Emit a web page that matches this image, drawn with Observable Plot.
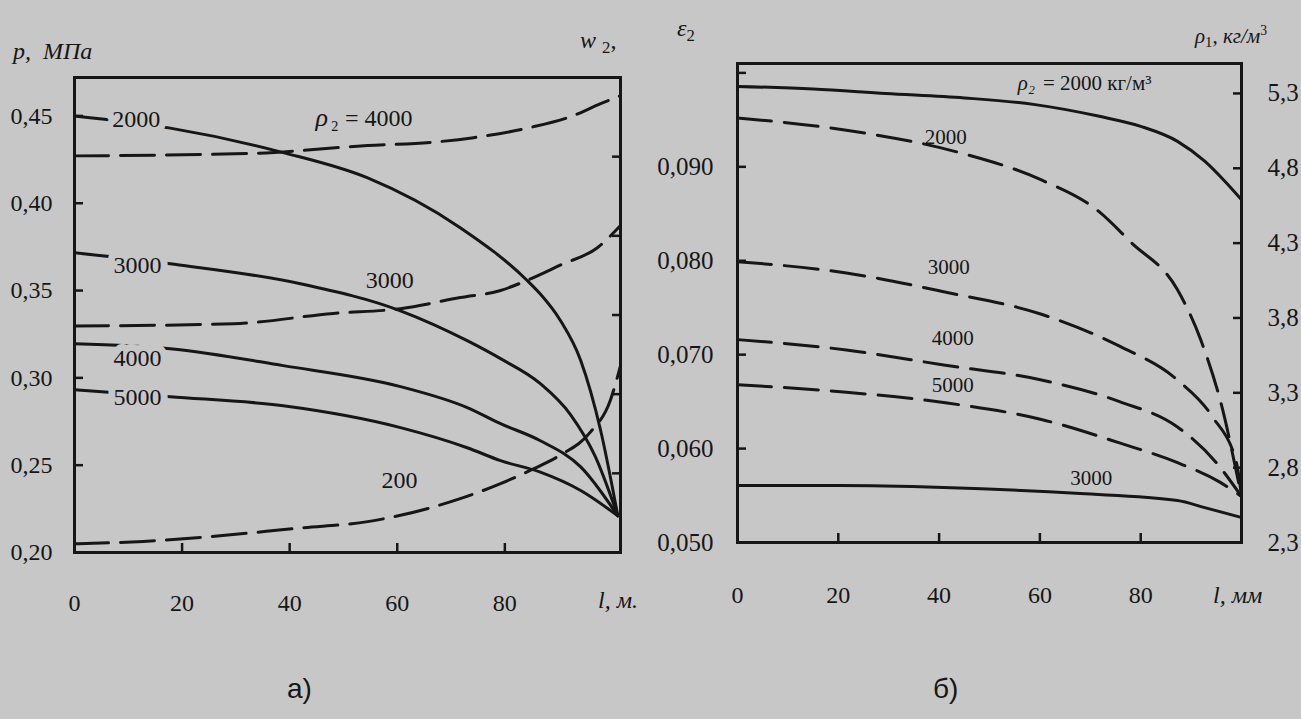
<!DOCTYPE html>
<html><head><meta charset="utf-8">
<script src="https://cdn.jsdelivr.net/npm/d3@7"></script>
<script src="https://cdn.jsdelivr.net/npm/@observablehq/plot@0.6"></script>
<style>
html,body{margin:0;padding:0;background:#c7c7c7;}
#wrap{position:relative;width:1301px;height:719px;overflow:hidden;background:#c7c7c7;font-family:"Liberation Serif","Times New Roman",serif;color:#161616}
.pl{position:absolute;top:0}
.t{position:absolute;white-space:nowrap;line-height:1;font-size:24px;font-family:"Liberation Serif","Times New Roman",serif}
.t i{font-style:italic}
.t sub{font-size:0.7em;vertical-align:-0.3em}
.t sup{font-size:0.65em;vertical-align:0.55em}
.t.s{font-family:"Liberation Sans",Arial,sans-serif;font-size:28px}
svg text{font-family:"Liberation Serif","Times New Roman",serif}
</style></head><body>
<div id="wrap">
  <div id="pa" class="pl" style="left:0"></div>
  <div id="pb" class="pl" style="left:620px"></div>
  <div class="t" style="left:13px;top:39px"><i>p,&nbsp; МПа</i></div>
  <div class="t" style="left:580px;top:28px"><i>w</i> <sub>2</sub>,</div>
  <div class="t" style="left:677px;top:16px"><i>ε</i><sub>2</sub></div>
  <div class="t" style="left:1195px;top:24px;font-size:21px"><i>ρ</i><sub>1</sub>, <i>кг/м</i><sup>3</sup></div>
  <div class="t" style="left:598px;top:588px"><i>l, м.</i></div>
  <div class="t" style="left:1213px;top:583px"><i>l, мм</i></div>
  <div class="t s" style="left:287px;top:675px">а)</div>
  <div class="t s" style="left:933px;top:675px">б)</div>
</div>
<script>
const ink = "#161616";
const paper = "#c7c7c7";
const serif = "Liberation Serif";

// ---------- Panel а): p (MPa, left) and w2 (right, unlabeled) vs l (m) ----------
const lTicksA = [0, 20, 40, 60, 80];
const pTicks = [0.20, 0.25, 0.30, 0.35, 0.40, 0.45];
const w2Ticks = [1, 2, 3, 4, 5];
const pDomain = [0.20, 0.472];
const w2Domain = [0, 6];
const lDomainA = [0, 101.5];

// solid: pressure p for rho2 = 2000..5000
const pRho2000 = [[0,0.450],[17.8,0.443],[38.8,0.429],[54.5,0.4145],[71.7,0.386],[84.2,0.3556],[86.6,0.348],[90.3,0.333],[94.1,0.310],[97.8,0.270],[101,0.221]];
const pRho3000 = [[0,0.3716],[17.8,0.3653],[42,0.3539],[60.6,0.3384],[73,0.3213],[79.2,0.311],[86.6,0.2967],[92.2,0.279],[96.8,0.255],[101,0.221]];
const pRho4000 = [[0,0.3195],[17.8,0.3167],[38.8,0.307],[60.6,0.295],[73,0.283],[79.2,0.2738],[86.6,0.264],[94.1,0.249],[101,0.221]];
const pRho5000 = [[0,0.2932],[17.8,0.2892],[38.8,0.284],[60.6,0.2715],[73,0.260],[79.2,0.2526],[86.6,0.246],[94.1,0.2355],[101,0.221]];
// dashed: particle velocity w2 (right axis units)
const w2Rho4000 = [[0,5.01],[32.7,5.04],[54.5,5.14],[66.2,5.18],[74.2,5.24],[84.8,5.37],[92.8,5.52],[97.8,5.67],[101.5,5.77]];
const w2Rho3000 = [[0,2.86],[29.6,2.89],[48.1,3.02],[60.6,3.08],[71.7,3.22],[79.2,3.31],[84.2,3.44],[90.3,3.63],[97.2,3.85],[101.5,4.13]];
const w2Rho2000 = [[0,0.11],[12.8,0.14],[23.4,0.19],[42,0.31],[54.5,0.39],[60.6,0.47],[71.7,0.68],[79.2,0.87],[84.8,1.04],[90.3,1.23],[95.9,1.52],[99.6,1.92],[101.5,2.36]];

const labelsSolidA = [["2000",11.5,0.4483],["3000",11.7,0.3642],["4000",11.7,0.311],["5000",11.7,0.2887]];
const labelsDashA = [["3000",58.6,0.3556],["200",60.4,0.2412]];
const labelRhoA = [["ρ",44.8,0.4488]];
const labelRhoRestA = [["₂ = 4000",47.6,0.4488]];

// ---------- Panel б): eps2 (left) and rho1 (kg/m3, right) vs l (mm) ----------
const lTicksB = [0, 20, 40, 60, 80];
const epsTicks = [0.05, 0.06, 0.07, 0.08, 0.09, 0.10];
const rhoTicks = [2.3, 2.8, 3.3, 3.8, 4.3, 4.8, 5.3];
const epsDomain = [0.05, 0.101];
const rhoDomain = [2.3, 5.5];
const lDomainB = [0, 100];

// solid: rho1
const rho1Rho2000 = [[0,5.347],[15,5.33],[29.4,5.30],[45,5.27],[58.7,5.227],[71.8,5.147],[80,5.08],[87.3,4.98],[92.7,4.847],[96.5,4.72],[100,4.59]];
const rho1Rho3000 = [[0,2.68],[20,2.68],[40.9,2.667],[68,2.627],[87.3,2.58],[92.7,2.533],[100,2.467]];
// dashed: eps2
const eps2Rho2000 = [[0,0.0952],[21.6,0.0939],[44.8,0.0914],[60.3,0.0886],[71.8,0.0852],[78,0.0820],[87.3,0.0769],[91.9,0.0716],[96.6,0.0634],[98.6,0.0585],[100,0.0549]];
const eps2Rho3000 = [[0,0.0799],[21.6,0.0787],[40.9,0.0767],[60.3,0.0743],[75.8,0.0709],[87.3,0.0673],[94.2,0.0634],[99,0.0585],[100,0.0549]];
const eps2Rho4000 = [[0,0.0716],[21.6,0.0705],[40.9,0.0689],[60.3,0.0673],[75.8,0.0650],[87.3,0.0623],[95,0.0585],[100,0.0549]];
const eps2Rho5000 = [[0,0.0668],[21.6,0.0660],[40.9,0.0649],[60.3,0.0631],[75.8,0.0606],[87.3,0.0585],[95.8,0.0564],[100,0.0549]];

const labelsB = [["2000",41.3,0.0931],["3000",41.9,0.0793],["4000",42.7,0.0717],["5000",42.7,0.0667],["3000",70.2,0.0568]];
const labelRhoB = [["ρ₂",55.6,0.0989]];
const labelRhoRestB = [["= 2000 кг/м³",60.6,0.0989]];

// ---------- helpers ----------
const w2toP = w => pDomain[0] + (w - w2Domain[0]) * (pDomain[1]-pDomain[0]) / (w2Domain[1]-w2Domain[0]);
const rhoToEps = r => epsDomain[0] + (r - rhoDomain[0]) * (epsDomain[1]-epsDomain[0]) / (rhoDomain[1]-rhoDomain[0]);
const rows = (pts, name, f = v => v) => pts.map(([l, v]) => ({l, v: f(v), name}));
const lab = arr => arr.map(([t, l, v]) => ({t, l, v}));
const comma = (d, n) => d.toFixed(n).replace(".", ",");

const solidA = [...rows(pRho2000,"2000"), ...rows(pRho3000,"3000"), ...rows(pRho4000,"4000"), ...rows(pRho5000,"5000")];
const dashA = [...rows(w2Rho4000,"4000",w2toP), ...rows(w2Rho3000,"3000",w2toP), ...rows(w2Rho2000,"2000",w2toP)];

const svgStyle = "background:transparent;color:#161616;font-family:'Liberation Serif','Times New Roman',serif;font-size:24px;overflow:visible";
const textStyle = {fontFamily: serif, fill: ink};

const pa = Plot.plot({
  width: 660, height: 650,
  marginLeft: 74, marginRight: 40, marginTop: 77, marginBottom: 98,
  style: svgStyle,
  x: {domain: lDomainA},
  y: {domain: pDomain},
  marks: [
    Plot.line(solidA, {x: "l", y: "v", z: "name", stroke: ink, strokeWidth: 3, curve: "monotone-x"}),
    Plot.line(dashA, {x: "l", y: "v", z: "name", stroke: ink, strokeWidth: 3, curve: "monotone-x", strokeDasharray: "34,12"}),
    Plot.text(lab(labelsSolidA), {x: "l", y: "v", text: "t", fontSize: 24, ...textStyle, stroke: paper, strokeWidth: 14}),
    Plot.text(lab(labelsDashA), {x: "l", y: "v", text: "t", fontSize: 24, ...textStyle}),
    Plot.text(lab(labelRhoA), {x: "l", y: "v", text: "t", fontSize: 26, fontStyle: "italic", textAnchor: "start", ...textStyle}),
    Plot.text(lab(labelRhoRestA), {x: "l", y: "v", text: "t", fontSize: 24, textAnchor: "start", ...textStyle}),
    Plot.axisX(lTicksA.slice(1), {tickSize: -9, strokeWidth: 2.5, tickFormat: () => "", label: null}),
    Plot.axisX(lTicksA, {tickSize: 0, tickPadding: 41, fontSize: 24, fontFamily: serif, label: null, tickFormat: d => String(d)}),
    Plot.axisY(pTicks, {anchor: "left", tickSize: -9, strokeWidth: 2.5, tickFormat: () => "", label: null}),
    Plot.axisY(pTicks, {anchor: "left", tickSize: 0, tickPadding: 22, fontSize: 24, fontFamily: serif, label: null, tickFormat: d => comma(d, 2)}),
    Plot.axisY(w2Ticks.map(w2toP), {anchor: "right", tickSize: -9, strokeWidth: 2.5, tickFormat: () => "", label: null}),
    Plot.frame({stroke: ink, strokeWidth: 3})
  ]
});
document.getElementById("pa").appendChild(pa);

const solidB = [...rows(rho1Rho2000,"2000",rhoToEps), ...rows(rho1Rho3000,"3000",rhoToEps)];
const dashB = [...rows(eps2Rho2000,"2000"), ...rows(eps2Rho3000,"3000"), ...rows(eps2Rho4000,"4000"), ...rows(eps2Rho5000,"5000")];

const pb = Plot.plot({
  width: 681, height: 650,
  marginLeft: 117, marginRight: 60, marginTop: 63, marginBottom: 108,
  style: svgStyle,
  x: {domain: lDomainB},
  y: {domain: epsDomain},
  marks: [
    Plot.line(solidB, {x: "l", y: "v", z: "name", stroke: ink, strokeWidth: 3, curve: "monotone-x"}),
    Plot.line(dashB, {x: "l", y: "v", z: "name", stroke: ink, strokeWidth: 3, curve: "monotone-x", strokeDasharray: "34,13"}),
    Plot.text(lab(labelsB), {x: "l", y: "v", text: "t", fontSize: 21, ...textStyle}),
    Plot.text(lab(labelRhoB), {x: "l", y: "v", text: "t", fontSize: 21, fontStyle: "italic", textAnchor: "start", ...textStyle}),
    Plot.text(lab(labelRhoRestB), {x: "l", y: "v", text: "t", fontSize: 21, textAnchor: "start", ...textStyle}),
    Plot.axisX(lTicksB.slice(1), {tickSize: -9, strokeWidth: 2.5, tickFormat: () => "", label: null}),
    Plot.axisX(lTicksB, {tickSize: 0, tickPadding: 43, fontSize: 24, fontFamily: serif, label: null, tickFormat: d => String(d)}),
    Plot.axisY(epsTicks, {anchor: "left", tickSize: -9, strokeWidth: 2.5, tickFormat: () => "", label: null}),
    Plot.axisY(epsTicks.filter(d => d < 0.095), {anchor: "left", tickSize: 0, tickPadding: 24, fontSize: 25, fontFamily: serif, label: null, tickFormat: d => comma(d, 3)}),
    Plot.axisY(rhoTicks.map(rhoToEps), {anchor: "right", tickSize: -9, strokeWidth: 2.5, tickFormat: () => "", label: null}),
    Plot.axisY(rhoTicks.map(rhoToEps), {anchor: "right", tickSize: 0, tickPadding: 26, fontSize: 25, fontFamily: serif, label: null,
      tickFormat: (d, i) => comma(rhoTicks[i], 1)}),
    Plot.frame({stroke: ink, strokeWidth: 3})
  ]
});
document.getElementById("pb").appendChild(pb);
</script>
</body></html>
